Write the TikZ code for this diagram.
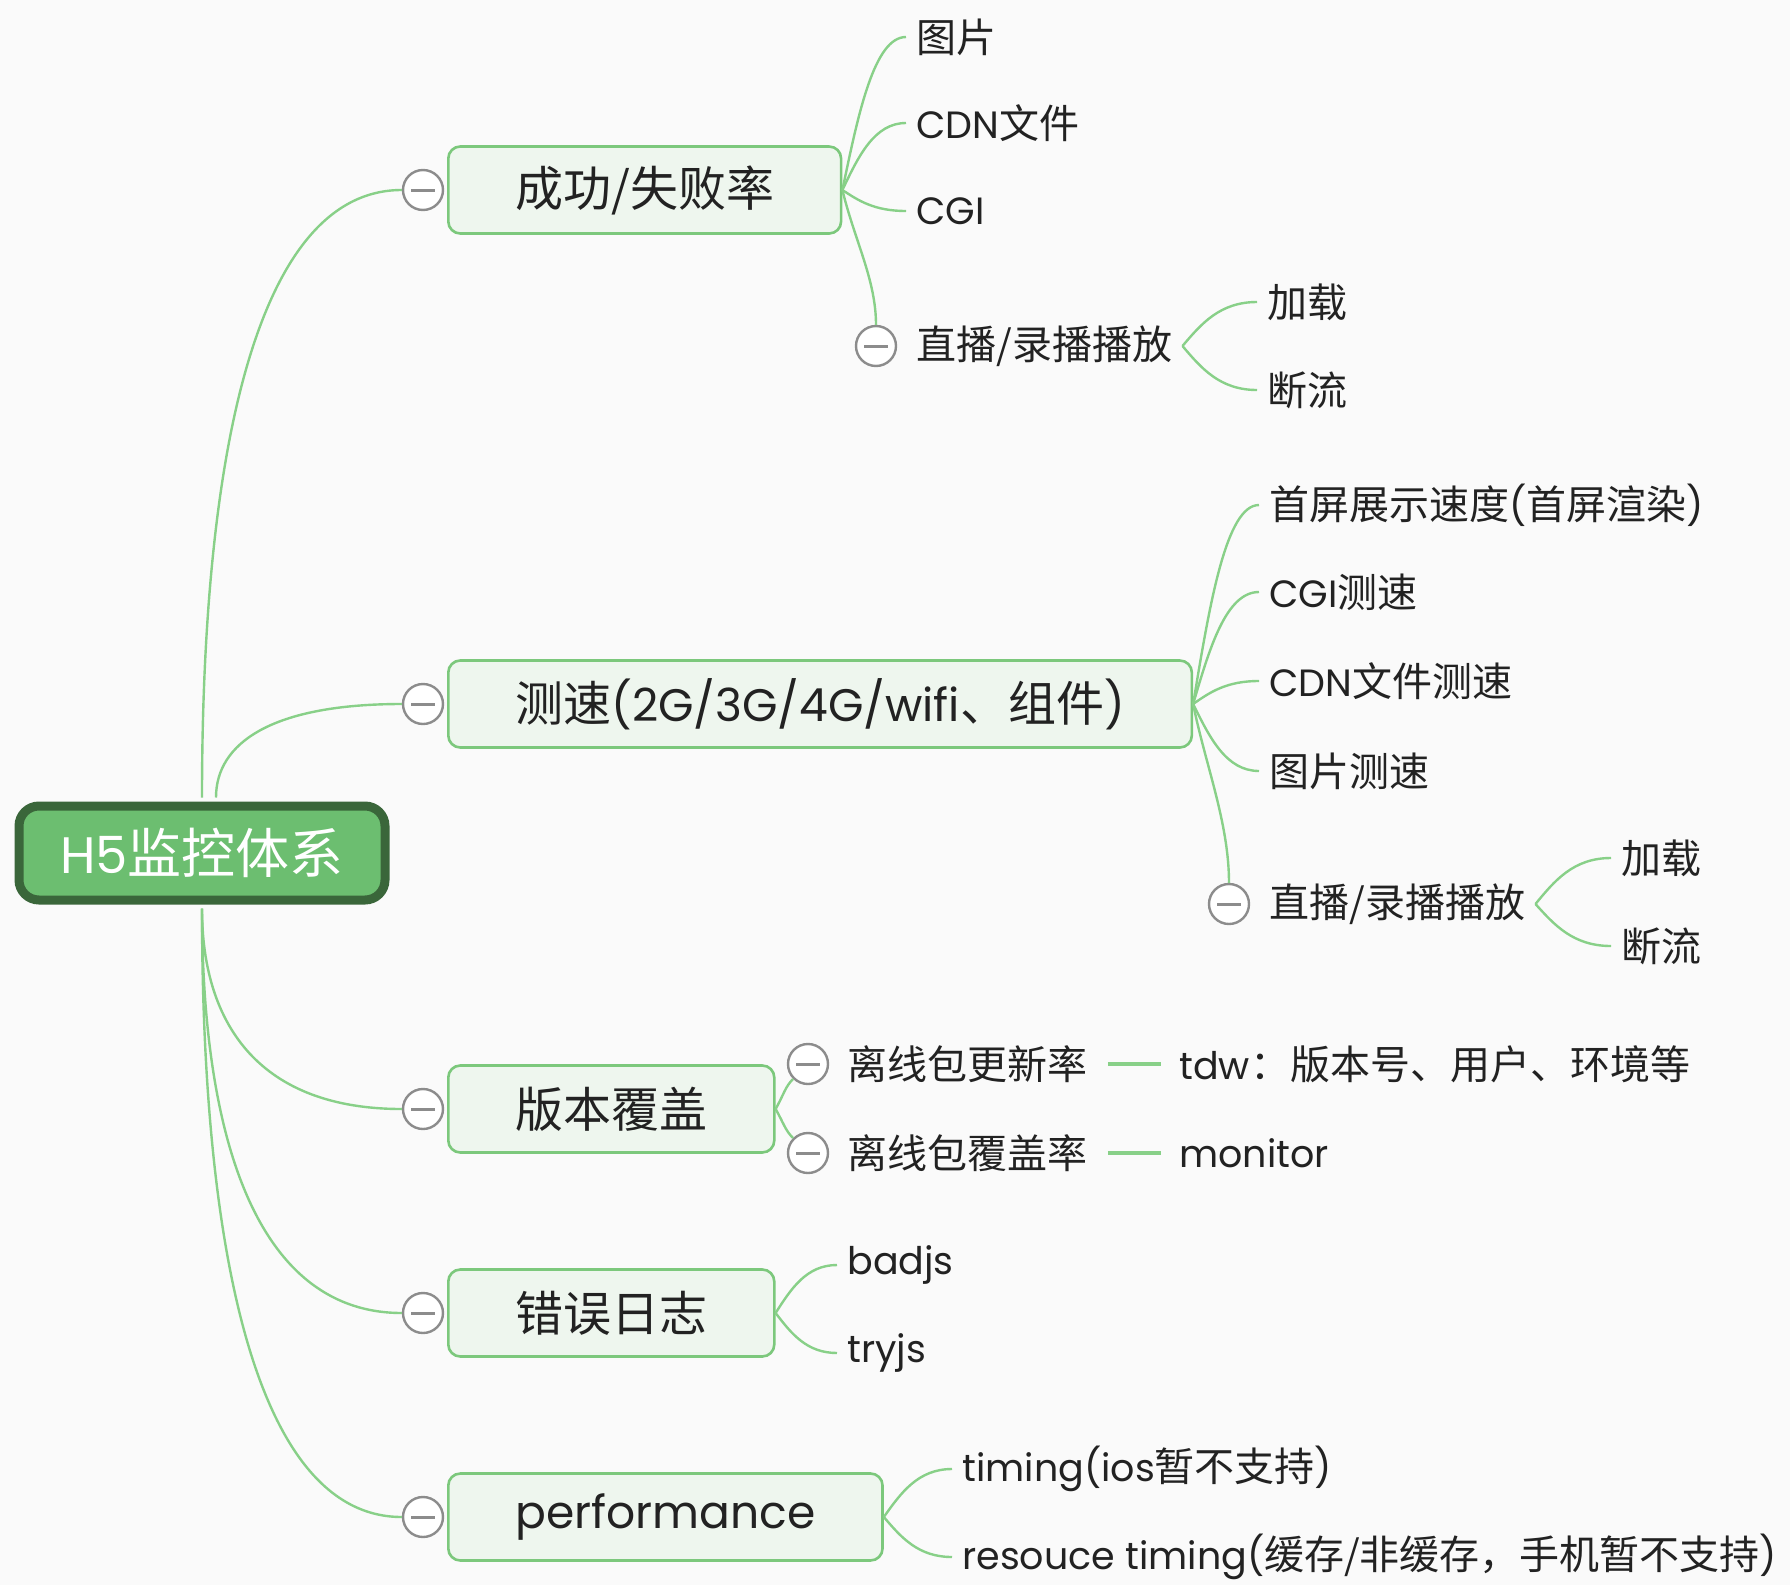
\documentclass[tikz,border=0pt]{standalone}
\usepackage{fontspec}
\setmainfont{Poppins}[Scale=0.95]
\newfontfamily\zhfont{Noto Sans CJK SC}
\usetikzlibrary{calc}
\definecolor{bgcol}{HTML}{FAFAFA}
\definecolor{rootfill}{HTML}{6CBE70}
\definecolor{rootline}{HTML}{3A663A}
\definecolor{boxfill}{HTML}{EEF6EE}
\definecolor{boxline}{HTML}{7CC87C}
\definecolor{linegreen}{HTML}{88D088}
\definecolor{foldgray}{HTML}{8C8C8C}
\definecolor{ink}{HTML}{222222}
\newcommand{\zh}[1]{{\zhfont #1}}
\newcommand{\rootsize}{\fontsize{27}{32}\selectfont}
\newcommand{\topicsize}{\fontsize{24}{28}\selectfont}
\newcommand{\leafsize}{\fontsize{20}{24}\selectfont}
\tikzset{rootbox/.style = {draw=rootline, line width=4.5pt, fill=rootfill,
                           rounded corners=10pt, text=white, font=\rootsize,
                           minimum width=183pt, minimum height=47pt},
         topicbox/.style = {draw=boxline, line width=1.3pt, fill=boxfill,
                            rounded corners=6pt, text=ink, font=\topicsize,
                            inner xsep=33.5pt, minimum height=43.5pt, anchor=west},
         leaf/.style = {font=\leafsize, text=ink, anchor=west, inner sep=5pt},
         fold/.style = {circle, draw=foldgray, line width=1.2pt, fill=white,
                        minimum size=20pt, inner sep=0pt,
                        path picture={\draw [foldgray, line width=1.5pt]
                          ([xshift=-6pt]path picture bounding box.center) --
                          ([xshift=6pt]path picture bounding box.center);}},
         branch/.style = {draw=linegreen, line width=1.2pt},
         hlink/.style = {to path={let \p1=(\tikztostart), \p2=(\tikztotarget) in
                          .. controls ({0.75*\x1+0.25*\x2},{0.5*\y1+0.5*\y2})
                          and ({0.5*\x1+0.5*\x2},\y2) .. (\tikztotarget)}},
         vlink/.style = {to path={let \p1=(\tikztostart), \p2=(\tikztotarget) in
                          .. controls (\x1,{0.4*\y1+0.6*\y2})
                          and ({0.7*\x1+0.3*\x2},\y2) .. (\tikztotarget)}}}

\begin{document}
\begin{tikzpicture}[x=0.5pt, y=-0.5pt]
  \fill [bgcol] (0,0) rectangle (1790,1585);
  \useasboundingbox (0,0) rectangle (1790,1585);

  % root and main topics
  \node [rootbox] (root) at (202,853) {H5\zh{监控体系}};
  \node [topicbox] (succ) at (447,190) {\zh{成功/失败率}};
  \node [topicbox] (speed) at (447,704) {\zh{测速}(2G/3G/4G/wifi\zh{、组件})};
  \node [topicbox] (ver) at (447,1109) {\zh{版本覆盖}};
  \node [topicbox] (err) at (447,1313) {\zh{错误日志}};
  \node [topicbox] (perf) at (447,1517) {performance};
  \foreach \t/\y in {succ/190, speed/704, ver/1109, err/1313, perf/1517}
    \node [fold] (f\t) at (423,\y) {};

  % success rate
  \node [leaf] (img) at (906,37) {\zh{图片}};
  \node [leaf] (cdn) at (906,123) {CDN\zh{文件}};
  \node [leaf] (cgi) at (906,211) {CGI};
  \node [fold] (flive) at (876,346) {};
  \node [leaf] (live) at (906,346) {\zh{直播/录播播放}};
  \node [leaf] (load) at (1257,302) {\zh{加载}};
  \node [leaf] (cut) at (1257,390) {\zh{断流}};

  % speed
  \node [leaf] (first) at (1259,505) {\zh{首屏展示速度}(\zh{首屏渲染})};
  \node [leaf] (cgis) at (1259,592) {CGI\zh{测速}};
  \node [leaf] (cdns) at (1259,681) {CDN\zh{文件测速}};
  \node [leaf] (imgs) at (1259,771) {\zh{图片测速}};
  \node [fold] (flives) at (1229,904) {};
  \node [leaf] (lives) at (1259,904) {\zh{直播/录播播放}};
  \node [leaf] (loads) at (1611,858) {\zh{加载}};
  \node [leaf] (cuts) at (1611,946) {\zh{断流}};

  % version
  \node [fold] (fupd) at (808,1064) {};
  \node [leaf] (upd) at (837,1064) {\zh{离线包更新率}};
  \node [fold] (fcov) at (808,1153) {};
  \node [leaf] (cov) at (837,1153) {\zh{离线包覆盖率}};
  \node [leaf] (tdw) at (1169,1064) {tdw\zh{：版本号、用户、环境等}};
  \node [leaf] (mon) at (1169,1153) {monitor};

  % errors and performance
  \node [leaf] (badjs) at (837,1265) {badjs};
  \node [leaf] (tryjs) at (837,1353) {tryjs};
  \node [leaf] (tim) at (952,1469) {timing(ios\zh{暂不支持})};
  \node [leaf] (res) at (952,1557) {resouce timing(\zh{缓存/非缓存，手机暂不支持})};

  % connectors
  \draw [branch, shorten <=2pt] (root.north) to [vlink] (fsucc.west);
  \draw [branch, shorten <=2pt] ([xshift=7pt]root.north) to [vlink] (fspeed.west);
  \foreach \t in {ver, err, perf}
    \draw [branch, shorten <=2pt] (root.south) to [vlink] (f\t.west);

  \foreach \l in {img, cdn, cgi}
    \draw [branch] (succ.east) to [hlink] (\l.west);
  \draw [branch] (succ.east) .. controls +(12,50) and +(0,-45) .. (flive.north);
  \draw [branch] (live.east) to [hlink] (load.west);
  \draw [branch] (live.east) to [hlink] (cut.west);

  \foreach \l in {first, cgis, cdns, imgs}
    \draw [branch] (speed.east) to [hlink] (\l.west);
  \draw [branch] (speed.east) .. controls +(12,60) and +(0,-60) .. (flives.north);
  \draw [branch] (lives.east) to [hlink] (loads.west);
  \draw [branch] (lives.east) to [hlink] (cuts.west);

  \draw [branch] (ver.east) .. controls +(8,-14) and +(-8,8) .. (fupd.south west);
  \draw [branch] (ver.east) .. controls +(8,14) and +(-8,-8) .. (fcov.north west);
  \draw [branch, line width=1.6pt, shorten <=5pt, shorten >=4pt] (upd.east) -- (tdw.west);
  \draw [branch, line width=1.6pt, shorten <=5pt, shorten >=4pt] (cov.east) -- (mon.west);

  \draw [branch] (err.east) to [hlink] (badjs.west);
  \draw [branch] (err.east) to [hlink] (tryjs.west);
  \draw [branch] (perf.east) to [hlink] (tim.west);
  \draw [branch] (perf.east) to [hlink] (res.west);
\end{tikzpicture}
\end{document}
